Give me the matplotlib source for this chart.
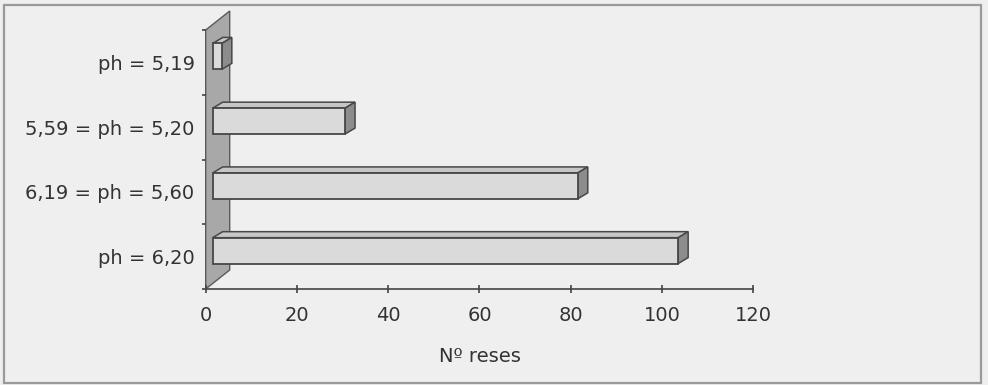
import matplotlib
matplotlib.use('Agg')
import matplotlib.pyplot as plt
from matplotlib.patches import Polygon, Rectangle

# categories from bottom to top
labels = ['ph = 6,20', '6,19 = ph = 5,60', '5,59 = ph = 5,20', 'ph = 5,19']
counts = [102, 80, 29, 2]
xticks = [0, 20, 40, 60, 80, 100, 120]

W, H = 988, 385
fig = plt.figure(figsize=(W / 100, H / 100), dpi=100, facecolor='#efefef')

# outer frame
fig.patches.append(Rectangle((4 / W, 2 / H), 977 / W, 378 / H, transform=fig.transFigure,
                             fill=False, edgecolor='#9a9a9a', lw=1.6))

ax_l, ax_r, ax_t, ax_b = 205.7, 753.3, 30, 289
ax = fig.add_axes([ax_l / W, (H - ax_b) / H, (ax_r - ax_l) / W, (ax_b - ax_t) / H])
ax.set_facecolor('none')
ax.set_xlim(0, 120)
ax.set_ylim(-0.5, len(labels) - 0.5)

# pixel -> data conversion for the fake 3D depth
px_x = 120 / (ax_r - ax_l)
px_y = len(labels) / (ax_b - ax_t)

# side wall
wdx, wdy = 24 * px_x, 19 * px_y
y0, y1 = -0.5, len(labels) - 0.5
ax.add_patch(Polygon([(0, y0), (0, y1), (wdx, y1 + wdy), (wdx, y0 + wdy)], closed=True,
                     facecolor='#a8a8a8', edgecolor='#5a5a5a', lw=1.0, clip_on=False, zorder=1))

# bars with depth
bdx, bdy = 10 * px_x, 6 * px_y
ox, oy = 7 * px_x, 6 * px_y
h = 0.40
edge = '#474747'
for i, v in enumerate(counts):
    yb = i - h / 2 + oy
    yt = i + h / 2 + oy
    xl, xr = ox, ox + v
    ax.add_patch(Polygon([(xl, yt), (xr, yt), (xr + bdx, yt + bdy), (xl + bdx, yt + bdy)],
                         closed=True, facecolor='#c6c6c6', edgecolor=edge, lw=1.1,
                         clip_on=False, zorder=3))
    ax.add_patch(Polygon([(xr, yb), (xr, yt), (xr + bdx, yt + bdy), (xr + bdx, yb + bdy)],
                         closed=True, facecolor='#8c8c8c', edgecolor=edge, lw=1.1,
                         clip_on=False, zorder=3))
ax.barh([i + oy for i in range(len(counts))], counts, left=ox, height=h,
        color='#dadada', edgecolor=edge, lw=1.3, zorder=4)

ax.spines['top'].set_visible(False)
ax.spines['right'].set_visible(False)
ax.spines['left'].set_visible(False)
ax.spines['bottom'].set_color('#444444')
ax.spines['bottom'].set_linewidth(1.2)

ax.set_xticks(xticks)
ax.set_xticklabels([str(t) for t in xticks])
ax.set_yticks([i - 0.5 for i in range(len(labels) + 1)], minor=False)
ax.set_yticklabels([])
ax.set_yticks(range(len(labels)), minor=True)
ax.set_yticklabels(labels, minor=True)
ax.tick_params(axis='y', which='major', direction='out', length=3, color='#444444', width=1.2)
ax.tick_params(axis='y', which='minor', length=0, pad=8, labelsize=14, labelcolor='#333333')
ax.tick_params(axis='x', direction='inout', length=6, color='#444444', width=1.2,
               pad=9, labelsize=14, labelcolor='#333333')

ax.set_xlabel('Nº reses', fontsize=14, color='#333333', labelpad=16)

fig.savefig('out.png', dpi=100, facecolor=fig.get_facecolor())
